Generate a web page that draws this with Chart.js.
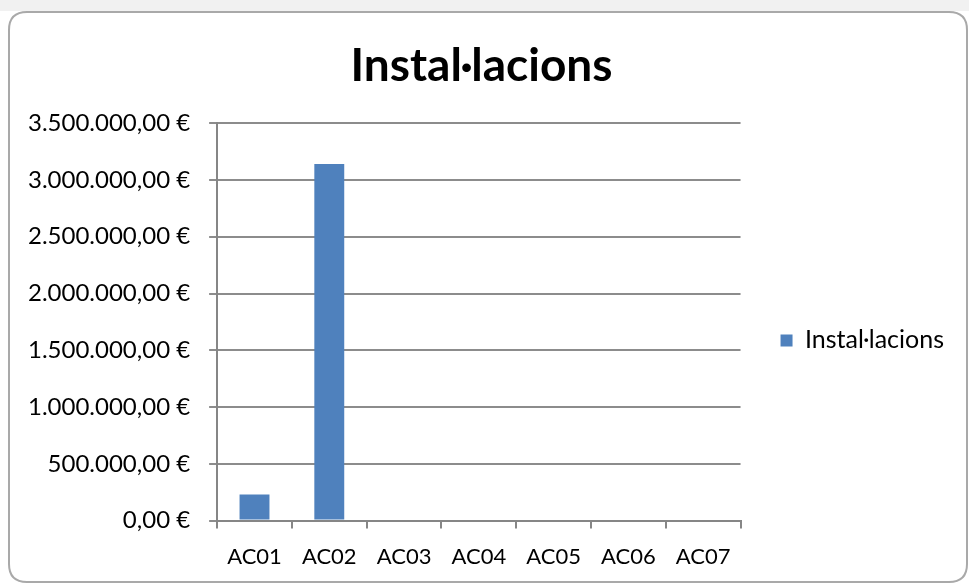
<!DOCTYPE html>
<html>
<head>
<meta charset="utf-8">
<script src="https://cdn.jsdelivr.net/npm/chart.js@4.4.1/dist/chart.umd.min.js"></script>
<style>
  html, body { margin: 0; padding: 0; background: #ffffff; }
  #wrap { width: 969px; height: 585px; }
</style>
</head>
<body>
<div id="wrap"><canvas id="c" width="969" height="585"></canvas></div>
<script>
// Categories and values for the chart
const categories = ['AC01', 'AC02', 'AC03', 'AC04', 'AC05', 'AC06', 'AC07'];
const installacions = [230000, 3140000, 0, 0, 0, 0, 0];
const seriesName = 'Instal·lacions';
const chartTitle = 'Instal·lacions';
const yTicks = [0, 500000, 1000000, 1500000, 2000000, 2500000, 3000000, 3500000];

const FONT = 'Lato, "Open Sans", "Liberation Sans", sans-serif';

// Euro format with "." thousands and "," decimals: 3.500.000,00 €
function euro(v) {
  const s = Math.round(Math.abs(v)).toString();
  const grouped = s.replace(/\B(?=(\d{3})+(?!\d))/g, '.');
  return (v < 0 ? '-' : '') + grouped + ',00 €';
}

// Rounded frame behind the chart
const framePlugin = {
  id: 'frame',
  beforeDraw(chart) {
    const ctx = chart.ctx;
    ctx.save();
    ctx.fillStyle = '#ffffff';
    ctx.fillRect(0, 0, chart.width, chart.height);
    ctx.fillStyle = '#f1f1f1';
    ctx.fillRect(0, 0, chart.width, 11);
    const x = 9, y = 12, w = 958, h = 570, r = 18;
    ctx.beginPath();
    ctx.moveTo(x + r, y);
    ctx.lineTo(x + w - r, y);
    ctx.quadraticCurveTo(x + w, y, x + w, y + r);
    ctx.lineTo(x + w, y + h - r);
    ctx.quadraticCurveTo(x + w, y + h, x + w - r, y + h);
    ctx.lineTo(x + r, y + h);
    ctx.quadraticCurveTo(x, y + h, x, y + h - r);
    ctx.lineTo(x, y + r);
    ctx.quadraticCurveTo(x, y, x + r, y);
    ctx.closePath();
    ctx.fillStyle = '#ffffff';
    ctx.fill();
    ctx.lineWidth = 2;
    ctx.strokeStyle = '#a9a9a9';
    ctx.stroke();
    ctx.restore();
  }
};

new Chart(document.getElementById('c'), {
  type: 'bar',
  data: {
    labels: categories,
    datasets: [{
      label: seriesName,
      data: installacions,
      backgroundColor: '#4f81bd',
      borderWidth: 0,
      categoryPercentage: 1.0,
      barPercentage: 0.4
    }]
  },
  plugins: [framePlugin],
  options: {
    responsive: false,
    devicePixelRatio: 1,
    animation: false,
    layout: { padding: { left: 9, right: 15, top: 20, bottom: 0 } },
    plugins: {
      title: {
        display: true,
        text: chartTitle,
        color: '#000000',
        font: { family: FONT, size: 46, weight: 'bold' },
        padding: { top: 19, bottom: 29 }
      },
      legend: {
        display: true,
        position: 'right',
        fullSize: false,
        title: {
          display: true,
          text: ' ',
          font: { family: FONT, size: 10 },
          padding: { top: 12, bottom: 13 }
        },
        labels: {
          color: '#000000',
          font: { family: FONT, size: 25 },
          boxWidth: 12,
          boxHeight: 12,
          padding: 40
        }
      },
      tooltip: { enabled: false }
    },
    scales: {
      x: {
        offset: true,
        grid: {
          offset: true,
          drawOnChartArea: false,
          drawTicks: true,
          tickLength: 8,
          color: '#868686',
          lineWidth: 2
        },
        border: { display: true, color: '#868686', width: 2 },
        ticks: {
          color: '#000000',
          font: { family: FONT, size: 22 },
          padding: 15,
          maxRotation: 0,
          autoSkip: false
        }
      },
      y: {
        min: 0,
        max: 3500000,
        afterBuildTicks(axis) {
          axis.ticks = yTicks.map(v => ({ value: v }));
        },
        grid: {
          drawTicks: true,
          tickLength: 8,
          color: '#8c8c8c',
          lineWidth: 2
        },
        border: { display: true, color: '#868686', width: 2 },
        ticks: {
          color: '#000000',
          font: { family: FONT, size: 24 },
          padding: 19,
          callback: (v) => euro(v)
        }
      }
    }
  }
});
</script>
</body>
</html>
